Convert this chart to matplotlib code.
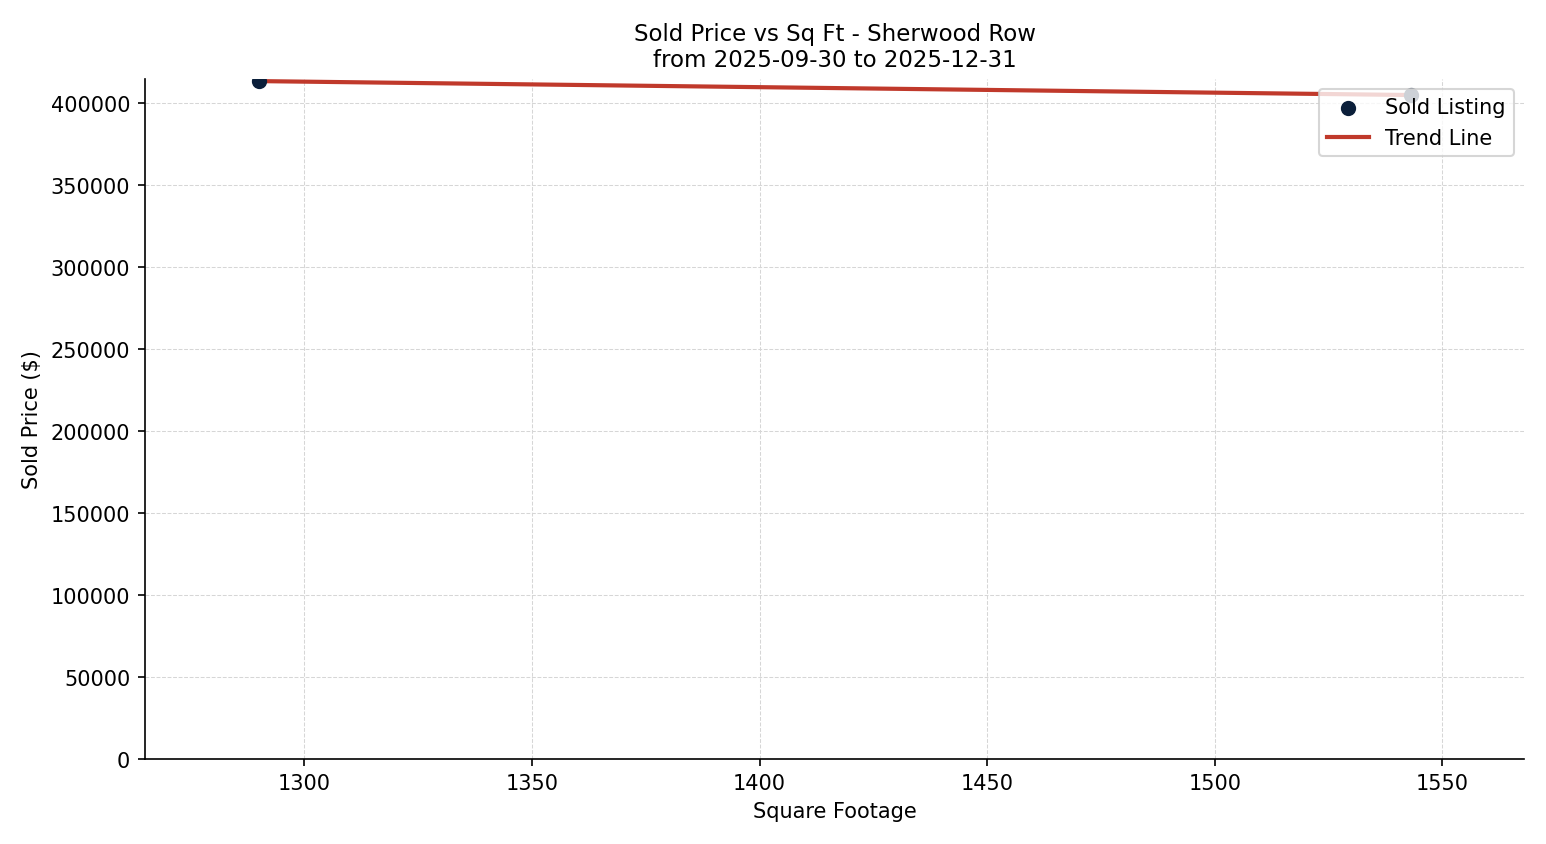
import numpy as np
import matplotlib.pyplot as plt

sqft = [1290, 1543]
price = [413500, 405000]

slope, intercept = np.polyfit(sqft, price, 1)
trend_x = np.array([min(sqft), max(sqft)])
trend_y = slope * trend_x + intercept

fig, ax = plt.subplots(figsize=(10.313, 5.633), dpi=150)

ax.scatter(sqft, price, s=40, color="#0b1f3a", label="Sold Listing", zorder=3)
ax.plot(trend_x, trend_y, color="#c0392b", linewidth=2, label="Trend Line", zorder=2)

ax.set_xlim(min(sqft) - 25, max(sqft) + 25)
ax.set_ylim(0, 415000)

ax.set_xlabel("Square Footage")
ax.set_ylabel("Sold Price ($)")
ax.set_title("Sold Price vs Sq Ft - Sherwood Row\nfrom 2025-09-30 to 2025-12-31", fontsize=11)

ax.grid(True, linestyle="--", linewidth=0.5, color="#d6d6d6")
ax.set_axisbelow(True)
ax.spines["top"].set_visible(False)
ax.spines["right"].set_visible(False)

ax.legend(loc="upper right")

plt.tight_layout()
plt.savefig("out.png", dpi=150)
